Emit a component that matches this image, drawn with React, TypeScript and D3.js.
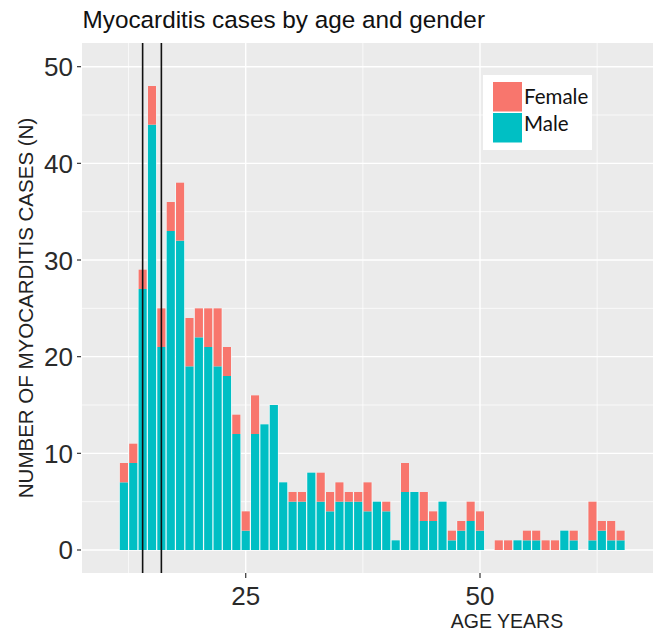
import * as d3 from 'd3';

// Age (years) of each bar and the stacked counts
const ages = [12, 13, 14, 15, 16, 17, 18, 19, 20, 21, 22, 23, 24, 25, 26, 27, 28, 29, 30, 31, 32, 33, 34, 35, 36, 37, 38,
  39, 40, 41, 42, 43, 44, 45, 46, 47, 48, 49, 50, 51, 52, 53, 54, 55, 56, 57, 58, 59, 60, 61, 62, 63, 64, 65];
const male = [7, 9, 27, 44, 21, 33, 32, 19, 22, 21, 19, 18, 12, 2, 12, 13, 15, 7, 5, 5, 8, 5, 4, 5, 5, 5, 4,
  5, 4, 1, 6, 6, 3, 3, 5, 1, 2, 3, 2, 0, 0, 0, 1, 1, 1, 0, 0, 2, 1, 0, 1, 2, 1, 1];
const female = [2, 2, 2, 4, 4, 3, 6, 5, 3, 4, 6, 3, 2, 2, 4, 0, 0, 0, 1, 1, 0, 3, 2, 2, 1, 1, 3,
  0, 1, 0, 3, 0, 3, 1, 0, 1, 1, 2, 2, 0, 1, 1, 0, 1, 1, 1, 1, 0, 1, 0, 4, 1, 2, 1];

const genders = ['Female', 'Male'];
const genderColors = ['#F8766D', '#00BFC4'];

const markerAges = [14, 16];
const yMajor = [0, 10, 20, 30, 40, 50];
const yMinor = [5, 15, 25, 35, 45];
const xMajor = [25, 50];
const xMinor = [12.5, 37.5, 62.5];

const W = 653;
const H = 631;
const margin = { top: 43, right: 0, bottom: 58, left: 82 };
const FONT = '"Liberation Sans", Arial, Helvetica, sans-serif';

export default function App() {
  const x = d3.scaleLinear().domain([7.53, 68.46]).range([margin.left, W - margin.right]);
  const y = d3.scaleLinear().domain([-2.38, 52.45]).range([H - margin.bottom, margin.top]);
  const top = margin.top;
  const bottom = H - margin.bottom;

  const rows = ages.map((a, i) => ({ age: a, male: male[i], female: female[i] }));
  const stack = d3.stack<any>().keys(['male', 'female'])(rows);

  return (
    <div style={{ position: 'absolute', left: 0, top: 0 }}>
      <svg width={W} height={H} style={{ display: 'block', background: '#fff' }}>
        {/* panel */}
        <rect x={margin.left} y={top} width={W - margin.left - margin.right} height={bottom - top} fill="#EBEBEB" />
        {yMinor.map(v => (
          <line key={'ym' + v} x1={margin.left} x2={W - margin.right} y1={y(v)} y2={y(v)} stroke="#fff" strokeWidth={0.7} />
        ))}
        {xMinor.map(v => (
          <line key={'xm' + v} x1={x(v)} x2={x(v)} y1={top} y2={bottom} stroke="#fff" strokeWidth={0.7} />
        ))}
        {yMajor.map(v => (
          <line key={'yM' + v} x1={margin.left} x2={W - margin.right} y1={y(v)} y2={y(v)} stroke="#fff" strokeWidth={1.4} />
        ))}
        {xMajor.map(v => (
          <line key={'xM' + v} x1={x(v)} x2={x(v)} y1={top} y2={bottom} stroke="#fff" strokeWidth={1.4} />
        ))}

        {/* white underlay so bar gaps read as thin white lines */}
        {rows.map(r => (
          <rect key={'u' + r.age} x={x(r.age - 0.5)} width={x(r.age + 0.5) - x(r.age - 0.5)}
            y={y(r.male + r.female)} height={y(0) - y(r.male + r.female)} fill="#f4ffff" />
        ))}
        {stack.map(layer => (
          <g key={layer.key} fill={layer.key === 'male' ? genderColors[1] : genderColors[0]}>
            {layer.map((d: any) => d[1] > d[0] && (
              <rect key={d.data.age} x={x(d.data.age - 0.5) + 0.6} width={x(d.data.age + 0.5) - x(d.data.age - 0.5) - 1.2}
                y={y(d[1])} height={y(d[0]) - y(d[1])} />
            ))}
          </g>
        ))}

        {/* reference lines */}
        {markerAges.map(a => (
          <line key={'v' + a} x1={x(a)} x2={x(a)} y1={top} y2={bottom} stroke="#111" strokeWidth={1.6} />
        ))}

        {/* y axis */}
        {yMajor.map(v => (
          <g key={'yt' + v}>
            <line x1={margin.left - 5} x2={margin.left - 1} y1={y(v)} y2={y(v)} stroke="#333" strokeWidth={1.2} />
            <text x={margin.left - 9} y={y(v) + 9.5} textAnchor="end" fontFamily={FONT} fontSize={26} fill="#2a2a2a">{v}</text>
          </g>
        ))}
        {/* x axis */}
        {xMajor.map(v => (
          <g key={'xt' + v}>
            <line x1={x(v)} x2={x(v)} y1={bottom} y2={bottom + 5} stroke="#333" strokeWidth={1.2} />
            <text x={x(v)} y={bottom + 32} textAnchor="middle" fontFamily={FONT} fontSize={26} fill="#2a2a2a">{v}</text>
          </g>
        ))}

        {/* labels */}
        <text x={82.5} y={27.7} fontFamily={FONT} fontSize={24.3} fill="#111">Myocarditis cases by age and gender</text>
        <text transform={`translate(33,${(top + bottom) / 2}) rotate(-90)`} textAnchor="middle" fontFamily={FONT}
          fontSize={20.5} fill="#222">NUMBER OF MYOCARDITIS CASES (N)</text>
        <text x={507} y={628} textAnchor="middle" fontFamily={FONT} fontSize={19.5} fill="#222">AGE YEARS</text>

        {/* legend */}
        <g>
          <rect x={483} y={75} width={109} height={75} fill="#fff" />
          {genders.map((g, i) => (
            <g key={g}>
              <rect x={493} y={82 + i * 31} width={29} height={29.5} fill={genderColors[i]} />
              <text x={524} y={104 + i * 27} fontFamily="Lato, 'Open Sans', sans-serif" fontSize={20.5} fill="#111">{g}</text>
            </g>
          ))}
        </g>
      </svg>
    </div>
  );
}
